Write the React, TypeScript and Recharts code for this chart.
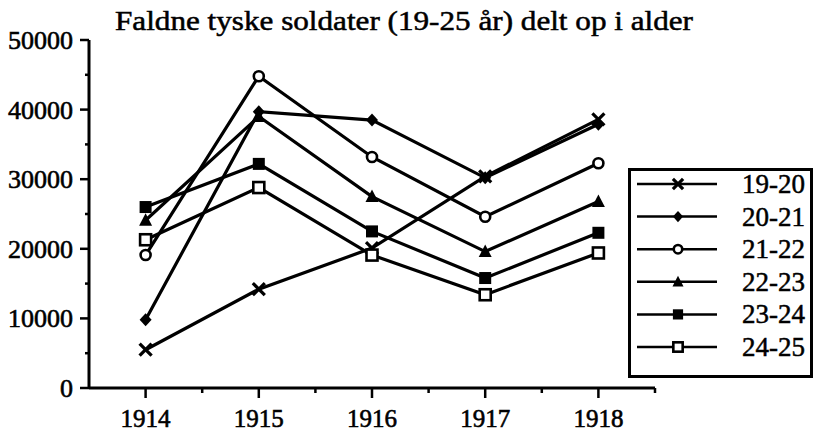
import React from "react";
import { LineChart, Line, XAxis, YAxis } from "recharts";

const years = [1914, 1915, 1916, 1917, 1918];
const s1920 = [5500, 14200, 20100, 30400, 38600];
const s2021 = [9800, 39700, 38500, 30200, 37900];
const s2122 = [19100, 44800, 33200, 24600, 32300];
const s2223 = [24100, 39000, 27500, 19600, 26800];
const s2324 = [26000, 32200, 22500, 15800, 22300];
const s2425 = [21300, 28800, 19100, 13400, 19400];

const seriesNames = ["19-20", "20-21", "21-22", "22-23", "23-24", "24-25"];
const seriesValues = [s1920, s2021, s2122, s2223, s2324, s2425];
const markerKinds = ["cross", "diamond", "circle", "triangle", "square", "openSquare"];

const yTicks = [0, 5000, 10000, 15000, 20000, 25000, 30000, 35000, 40000, 45000, 50000];
const xTicks = [1914, 1914.5, 1915, 1915.5, 1916, 1916.5, 1917, 1917.5, 1918, 1918.5];

const title = "Faldne tyske soldater (19-25 år) delt op i alder";

const data = years.map((y, i) => {
  const row: Record<string, number> = { year: y };
  seriesNames.forEach((n, j) => {
    row[n] = seriesValues[j][i];
  });
  return row;
});

const FONT = "'Liberation Serif', 'Times New Roman', serif";

function Marker({ kind, cx, cy, s = 1 }: { kind: string; cx: number; cy: number; s?: number }) {
  const k = s;
  switch (kind) {
    case "cross":
      return (
        <g stroke="#000" strokeWidth={3.2}>
          <line x1={cx - 6 * k} y1={cy - 6 * k} x2={cx + 6 * k} y2={cy + 6 * k} />
          <line x1={cx - 6 * k} y1={cy + 6 * k} x2={cx + 6 * k} y2={cy - 6 * k} />
        </g>
      );
    case "diamond":
      return (
        <polygon
          points={`${cx},${cy - 6.5 * k} ${cx + 6 * k},${cy} ${cx},${cy + 6.5 * k} ${cx - 6 * k},${cy}`}
          fill="#000"
        />
      );
    case "circle":
      return <circle cx={cx} cy={cy} r={5 * k} fill="#fff" stroke="#000" strokeWidth={2.6} />;
    case "triangle":
      return (
        <polygon
          points={`${cx},${cy - 7 * k} ${cx + 6.5 * k},${cy + 5.5 * k} ${cx - 6.5 * k},${cy + 5.5 * k}`}
          fill="#000"
        />
      );
    case "square":
      return <rect x={cx - 6 * k} y={cy - 6 * k} width={12 * k} height={12 * k} fill="#000" />;
    case "openSquare":
      return (
        <rect
          x={cx - 5.5 * k}
          y={cy - 5.5 * k}
          width={11 * k}
          height={11 * k}
          fill="#fff"
          stroke="#000"
          strokeWidth={2.6}
        />
      );
    default:
      return null;
  }
}

const XTick = (props: any) => {
  const { x, y, payload } = props;
  const v = payload.value as number;
  const major = Number.isInteger(v);
  return (
    <g>
      <line x1={x} y1={y} x2={x} y2={y + (major ? 10 : 5)} stroke="#000" strokeWidth={2.5} />
      {major ? (
        <text
          x={x}
          y={y + 39}
          textAnchor="middle"
          fontFamily={FONT}
          fontSize={25}
          fill="#000"
          stroke="#000"
          strokeWidth={0.6}
        >
          {v}
        </text>
      ) : null}
    </g>
  );
};

const YTick = (props: any) => {
  const { x, y, payload } = props;
  const v = payload.value as number;
  const major = v % 10000 === 0;
  return (
    <g>
      <line x1={x - (major ? 9 : 4)} y1={y} x2={x} y2={y} stroke="#000" strokeWidth={2.5} />
      {major ? (
        <text
          x={x - 16}
          y={y + 9}
          textAnchor="end"
          fontFamily={FONT}
          fontSize={26}
          fill="#000"
          stroke="#000"
          strokeWidth={0.6}
        >
          {v}
        </text>
      ) : null}
    </g>
  );
};

export default function App() {
  const legendTop = 184;
  const legendStep = 32.6;
  return (
    <div style={{ position: "absolute", left: 0, top: 0, width: 818, height: 432, background: "#fff" }}>
      <LineChart
        width={818}
        height={432}
        data={data}
        margin={{ top: 40, right: 163, bottom: 0, left: 0 }}
      >
        <XAxis
          dataKey="year"
          type="number"
          domain={[1913.5, 1918.5]}
          ticks={xTicks}
          interval={0}
          height={44}
          tickSize={0}
          tickMargin={0}
          tickLine={false}
          axisLine={{ stroke: "#000", strokeWidth: 3 }}
          tick={<XTick />}
        />
        <YAxis
          type="number"
          domain={[0, 50000]}
          ticks={yTicks}
          interval={0}
          width={89}
          tickSize={0}
          tickMargin={0}
          tickLine={false}
          axisLine={{ stroke: "#000", strokeWidth: 3 }}
          tick={<YTick />}
        />
        {seriesNames.map((name, j) => (
          <Line
            key={name}
            dataKey={name}
            type="linear"
            stroke="#000"
            strokeWidth={3.2}
            isAnimationActive={false}
            activeDot={false}
            dot={(p: any) => (
              <Marker key={`${name}-${p.index}`} kind={markerKinds[j]} cx={p.cx} cy={p.cy} />
            )}
          />
        ))}
      </LineChart>
      <svg
        width={818}
        height={432}
        style={{ position: "absolute", left: 0, top: 0, pointerEvents: "none" }}
      >
        <text
          x={115}
          y={30}
          fontFamily={FONT}
          fontSize={27}
          textLength={578}
          lengthAdjust="spacingAndGlyphs"
          fill="#000"
          stroke="#000"
          strokeWidth={0.5}
        >
          {title}
        </text>
        <rect x={629.5} y={169.5} width={182} height={207} fill="#fff" stroke="#000" strokeWidth={3} />
        {seriesNames.map((name, j) => {
          const cy = legendTop + legendStep * j;
          return (
            <g key={name}>
              <line x1={637} y1={cy} x2={717} y2={cy} stroke="#000" strokeWidth={2.5} />
              <Marker kind={markerKinds[j]} cx={678} cy={cy} s={0.85} />
              <text
                x={742}
                y={cy + 9}
                fontFamily={FONT}
                fontSize={27}
                fill="#000"
                stroke="#000"
                strokeWidth={0.5}
              >
                {name}
              </text>
            </g>
          );
        })}
      </svg>
    </div>
  );
}
